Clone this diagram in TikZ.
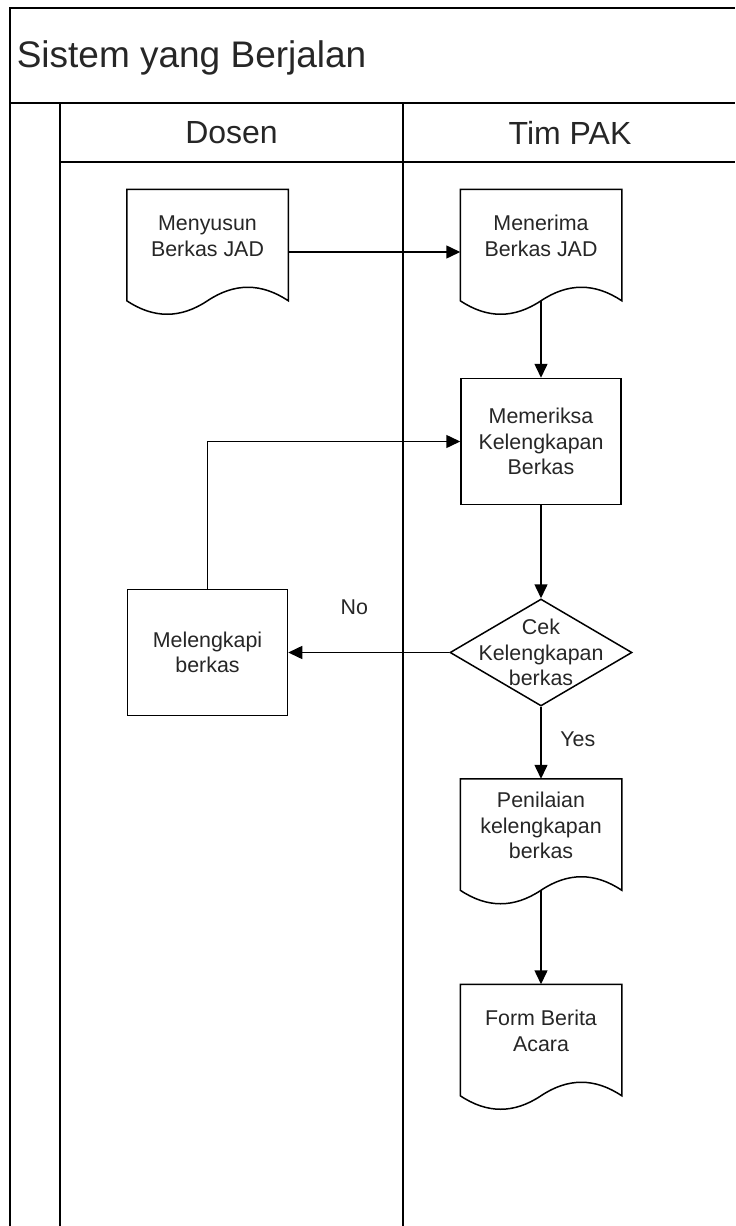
\documentclass[tikz,border=0pt]{standalone}
\usepackage{fontspec}
\setmainfont{Liberation Sans}
\usetikzlibrary{shapes.geometric}
\usetikzlibrary{arrows.meta}
\usetikzlibrary{positioning}

\begin{document}
\begin{tikzpicture}[x=0.5pt,y=-0.5pt,>={Triangle[length=7pt,width=6.5pt]},line width=0.75pt,
  every node/.style={font=\fontsize{10.7}{12.8}\selectfont,text=black!85},
  process/.style={draw,rectangle,minimum width=80pt,minimum height=63pt,align=center,inner sep=0pt},
  doc/.style={minimum width=80pt,minimum height=55pt,inner sep=0pt},
  doctext/.style={align=center,yshift=4.5pt,inner sep=0pt},
  decision/.style={draw,diamond,minimum width=91pt,minimum height=53.5pt,inner sep=0pt},
  lane/.style={line width=1pt}]
\useasboundingbox (0,0) rectangle (735,1226);
% swimlane frame
\draw[lane] (10,1226) -- (10,8) -- (735,8);
\draw[lane] (10,103) -- (735,103);
\draw[lane] (60,1226) -- (60,103);
\draw[lane] (60,162) -- (735,162);
\draw[lane] (403,1226) -- (403,103);
\node[font=\fontsize{18.5}{22}\selectfont,anchor=west,inner sep=0pt] (title) at (16,58) {Sistem yang Berjalan};
\node[font=\fontsize{16}{19}\selectfont] (dosen) at (231.5,133) {Dosen};
\node[font=\fontsize{16}{19}\selectfont] (timpak) at (570,133) {Tim PAK};
% flow
\node[doc,label={[doctext]center:{Menyusun\\Berkas JAD}}] (menyusun) at (207.5,245) {};
\node[doc,label={[doctext]center:{Menerima\\Berkas JAD}}] (menerima) [right=86pt of menyusun] {};
\node[process] (memeriksa) [below=38.5pt of menerima] {Memeriksa\\Kelengkapan\\Berkas};
\node[decision,label={[align=center,inner sep=0pt]center:{Cek\\Kelengkapan\\berkas}}] (cek) [below=46.5pt of memeriksa] {};
\node[process] (melengkapi) [left=80.5pt of cek] {Melengkapi\\berkas};
\node[doc,label={[doctext]center:{Penilaian\\kelengkapan\\berkas}}] (penilaian) [below=36pt of cek] {};
\node[doc,label={[doctext]center:{Form Berita\\Acara}}] (form) [below=47pt of penilaian] {};
\foreach \d in {menyusun,menerima,penilaian,form}
  \draw (\d.north west) -- (\d.north east) -- (\d.south east)
    .. controls +(-27,-18) and +(27,-18) .. (\d.south)
    .. controls +(-27,18) and +(27,18) .. (\d.south west) -- cycle;
\draw[->] ([yshift=-3.5pt]menyusun.east) -- ([yshift=-3.5pt]menerima.west);
\draw[->] (menerima.south) -- (memeriksa.north);
\draw[->] (memeriksa.south) -- (cek.north);
\draw[->] (cek.west) -- node[pos=.59,above=15pt] {No} (melengkapi.east);
\draw[->] (melengkapi.north) |- (memeriksa.west);
\draw[->] (cek.south) -- node[pos=.45,right=6pt] {Yes} (penilaian.north);
\draw[->] (penilaian.south) -- (form.north);
\end{tikzpicture}
\end{document}
